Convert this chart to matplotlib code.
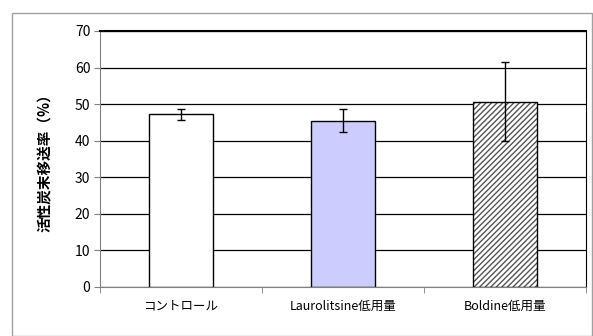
import matplotlib

matplotlib.use("Agg")
import matplotlib.pyplot as plt
import numpy as np
from matplotlib.patches import Rectangle

plt.rcParams["font.family"] = ["Noto Sans CJK JP", "DejaVu Sans"]
plt.rcParams["hatch.linewidth"] = 1.0
plt.rcParams["hatch.color"] = "#555555"

categories = ["コントロール", "Laurolitsine低用量", "Boldine低用量"]
values = [47.2, 45.5, 50.7]
errors = [1.4, 3.2, 10.8]
yticks = [0, 10, 20, 30, 40, 50, 60, 70]

fig = plt.figure(figsize=(5.93, 3.36), dpi=100)
fig.patches.append(Rectangle((12 / 593, 0), 1 - 13 / 593, 1 - 13 / 336, transform=fig.transFigure,
                             fill=False, edgecolor="#a0a0a0", lw=1))
ax = fig.add_axes([100 / 593, 1 - 287 / 336, 486 / 593, 256 / 336])

x = np.arange(len(categories))
ax.set_axisbelow(True)
ax.grid(axis="y", color="black", lw=0.9)
faces = ["white", "#ccccff", "white"]
hatches = [None, None, "//////"]
for xi, v, e, fc, h in zip(x, values, errors, faces, hatches):
    if h:
        # hatch drawn in gray first, black outline on top
        ax.bar(xi, v, width=0.4, color=fc, edgecolor="#555555", lw=0, hatch=h, zorder=2)
        ax.bar(xi, v, width=0.4, fill=False, edgecolor="black", lw=1, zorder=2)
    else:
        ax.bar(xi, v, width=0.4, color=fc, edgecolor="black", lw=1, zorder=2)
    ax.errorbar(xi, v, yerr=e, fmt="none", ecolor="black", elinewidth=1, capsize=3, capthick=1, zorder=3)

ax.set_xlim(-0.5, 2.5)
ax.set_ylim(0, 70)
ax.set_yticks(yticks)
ax.set_xticks(x)
ax.set_xticklabels(categories, fontsize=9)
ax.set_xticks([-0.5, 0.5, 1.5, 2.5], minor=True)
ax.tick_params(axis="x", which="major", length=0, pad=9)
ax.tick_params(axis="x", which="minor", length=4, color="#808080", direction="out")
ax.tick_params(axis="y", length=4, color="#808080", labelsize=10, pad=3)
ax.spines["left"].set_color("#808080")
ax.spines["bottom"].set_color("#808080")
ax.spines["top"].set_linewidth(1.5)
ax.spines["right"].set_color("black")
ax.set_ylabel("活性炭末移送率（%）", fontsize=10.5, fontweight="bold", labelpad=16)

fig.savefig("out.png", dpi=100)
